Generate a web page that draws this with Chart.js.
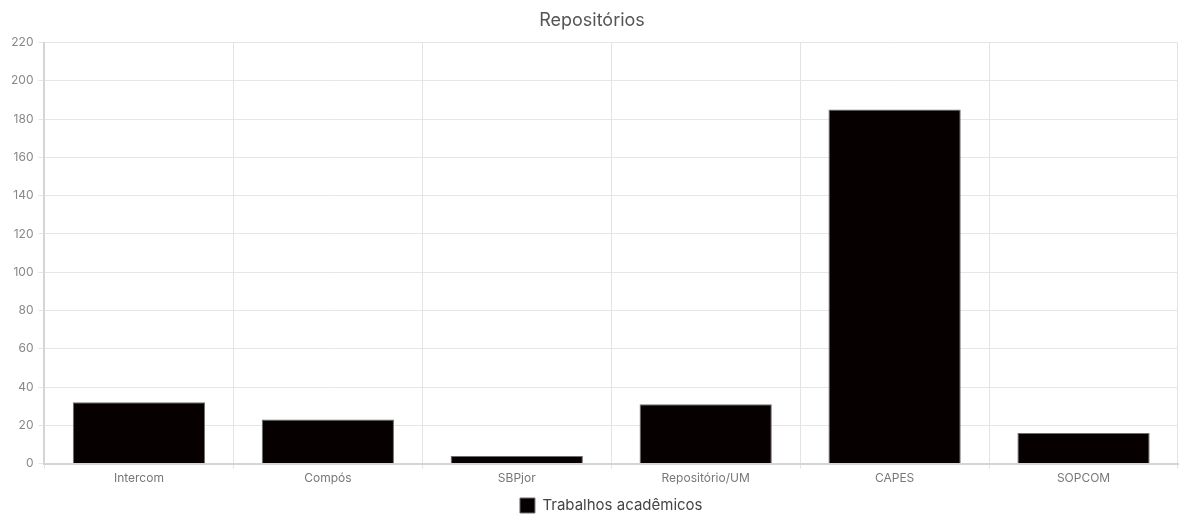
<!DOCTYPE html>
<html><head><meta charset="utf-8">
<script src="https://cdn.jsdelivr.net/npm/chart.js@4"></script>
<style>html,body{margin:0;padding:0;background:#fff}#w{width:1179px;height:516px}</style>
</head><body><div id="w"><canvas id="c"></canvas></div>
<script>
const categories = ["Intercom","Compós","SBPjor","Repositório/UM","CAPES","SOPCOM"];
const seriesLabel = "Trabalhos acadêmicos";
const seriesValues = [32, 23, 4, 31, 185, 16];
const titleText = "Repositórios";

Chart.defaults.font.family = "Inter, 'Helvetica Neue', Arial, sans-serif";
new Chart(document.getElementById('c'), {
  type: 'bar',
  data: { labels: categories, datasets: [{
    label: seriesLabel, data: seriesValues,
    backgroundColor: '#070000', borderColor: '#6e6e6e', borderWidth: 1,
    barPercentage: 0.875, categoryPercentage: 0.8
  }]},
  options: {
    responsive: true, maintainAspectRatio: false, animation: false,
    layout: { padding: { right: 1, left: 6, top: 0, bottom: -7 } },
    plugins: {
      title: { display: true, text: titleText, color: '#555', font: { size: 18, weight: 'normal' }, padding: { top: 10, bottom: 11 } },
      legend: { position: 'bottom', fullSize: false, labels: { color: '#444', font: { size: 15 }, boxWidth: 15, boxHeight: 15, padding: 2 } },
      tooltip: { enabled: false }
    },
    scales: {
      x: { grid: { color: '#e3e3e3', offset: true, tickLength: 5 }, border: { color: '#d5d5d5', width: 2 },
           ticks: { color: '#777', font: { size: 12 }, padding: 3 },
           afterFit: (s) => { s.height += 7; } },
      y: { min: 0, max: 220, grid: { color: '#e6e6e6', tickLength: 6 }, border: { color: '#d5d5d5', width: 2 },
           ticks: { stepSize: 20, color: '#888', font: { size: 12 }, padding: 5 } }
    }
  }
});
</script></body></html>
